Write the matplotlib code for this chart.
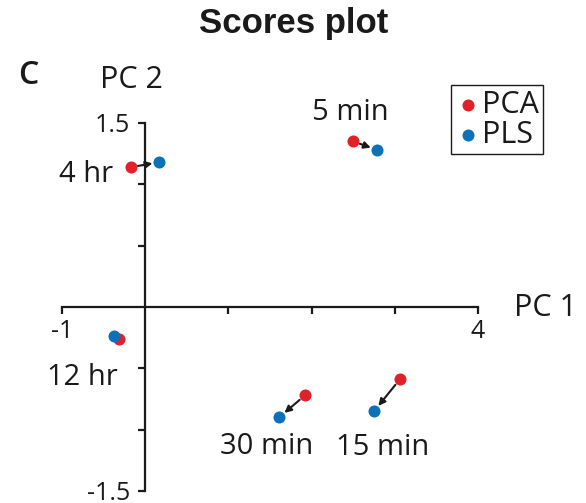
import numpy as np
import matplotlib
matplotlib.use("Agg")
import matplotlib.pyplot as plt

# valores
rotulos = ["4 hr", "5 min", "12 hr", "30 min", "15 min"]
pca_x = [-0.17, 2.50, -0.31, 1.92, 3.06]
pca_y = [1.14, 1.35, -0.26, -0.72, -0.59]
pls_x = [0.17, 2.79, -0.38, 1.61, 2.75]
pls_y = [1.18, 1.28, -0.24, -0.90, -0.85]

# posicao dos rotulos (deslocamento em pixels a partir de cada ponto)
ancora = ["pca", "pca", "pca", "pls", "pls"]
desloc = [(-18, -7), (-3, 29), (-2, -39), (-13, -29), (9, -36)]
alinh = ["right", "center", "right", "center", "center"]

cor_pca = "#e1202a"
cor_pls = "#0b72b9"
fonte = "Open Sans"

plt.rcParams["font.family"] = [fonte, "DejaVu Sans"]

fig = plt.figure(figsize=(5.86, 5.03), dpi=100)
ax = fig.add_axes([62 / 586, 12 / 503, 416 / 586, 368 / 503])
ax.set_xlim(-1, 4)
ax.set_ylim(-1.5, 1.5)

# eixos cruzando na origem
ax.spines["left"].set_position(("data", 0))
ax.spines["bottom"].set_position(("data", 0))
ax.spines["right"].set_visible(False)
ax.spines["top"].set_visible(False)
ax.spines["left"].set_linewidth(1.6)
ax.spines["bottom"].set_linewidth(1.6)
ax.spines["left"].set_color("#1a1a1a")
ax.spines["bottom"].set_color("#1a1a1a")

ax.set_xticks([-1, 1, 2, 3, 4])
ax.set_xticklabels(["-1", "", "", "", "4"])
ax.set_yticks([-1.5, -1, -0.5, 0.5, 1, 1.5])
ax.set_yticklabels(["-1.5", "", "", "", "", "1.5"])
ax.tick_params(direction="out", length=5, width=1.6, color="#1a1a1a",
               labelsize=18, labelcolor="#1a1a1a", pad=4)
ax.tick_params(axis="y", pad=6)
for t in ax.get_yticklabels():
    t.set_verticalalignment("center_baseline")
ax.patch.set_visible(False)

ax.scatter(pca_x, pca_y, s=75, color=cor_pca, zorder=3, label="PCA", linewidths=0)
ax.scatter(pls_x, pls_y, s=75, color=cor_pls, zorder=3, label="PLS", linewidths=0)

# setas do PCA para o PLS
for i in range(len(rotulos)):
    ax.annotate("", xy=(pls_x[i], pls_y[i]), xytext=(pca_x[i], pca_y[i]),
                arrowprops=dict(arrowstyle="-|>", color="#1a1a1a", lw=1.5,
                                mutation_scale=10, shrinkA=5, shrinkB=5),
                zorder=2)

for i, txt in enumerate(rotulos):
    if ancora[i] == "pca":
        p = (pca_x[i], pca_y[i])
    else:
        p = (pls_x[i], pls_y[i])
    dx, dy = desloc[i]
    ax.annotate(txt, xy=p, xytext=(dx * 0.72, dy * 0.72), textcoords="offset points",
                ha=alinh[i], va="center", fontsize=21, color="#1a1a1a")

leg = ax.legend(loc="upper right", bbox_to_anchor=(543 / 586, 1 - 85 / 503),
                bbox_transform=fig.transFigure, borderaxespad=0, fontsize=22,
                handletextpad=0.05, handlelength=0.8, borderpad=0.15,
                labelspacing=0.0, fancybox=False, framealpha=1)
leg.get_frame().set_edgecolor("#1a1a1a")
leg.get_frame().set_linewidth(1.0)
for t in leg.get_texts():
    t.set_color("#1a1a1a")

fig.text(131 / 586, 1 - 80 / 503, "PC 2", fontsize=22, ha="center", va="center", color="#1a1a1a")
fig.text(545 / 586, 1 - 308 / 503, "PC 1", fontsize=22, ha="center", va="center", color="#1a1a1a")
fig.text(28 / 586, 1 - 76 / 503, "C", fontsize=23, fontweight="semibold", ha="center", va="center", color="#1a1a1a")
fig.text(294 / 586, 1 - 23 / 503, "Scores plot", fontsize=25, fontweight="bold",
         family="Liberation Sans", ha="center", va="center", color="#1a1a1a")

fig.savefig("out.png", dpi=100)
